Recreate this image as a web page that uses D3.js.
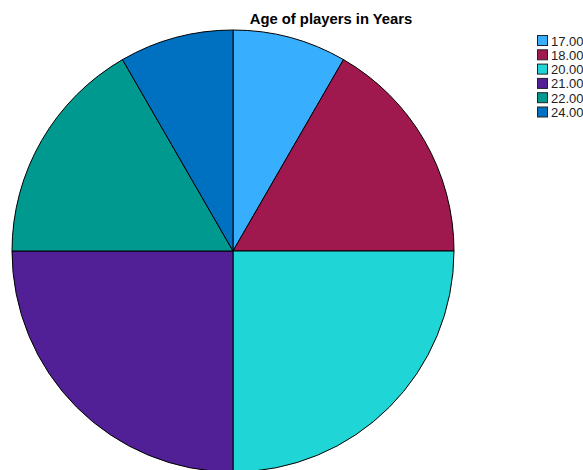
<!DOCTYPE html>
<html>
<head>
<meta charset="utf-8">
<script src="https://cdn.jsdelivr.net/npm/d3@7"></script>
<style>
  html, body { margin: 0; padding: 0; background: #fff; overflow: hidden; }
  svg { display: block; }
</style>
</head>
<body>
<svg id="chart" width="583" height="470"></svg>
<script>
// Ages of players and how many players have each age
const ages = ["17.00", "18.00", "20.00", "21.00", "22.00", "24.00"];
const counts = [1, 2, 3, 3, 2, 1];
const colors = ["#38aeff", "#a0194e", "#20d5d5", "#511f96", "#00998f", "#0070c0"];
const title = "Age of players in Years";

const svg = d3.select("#chart");
const cx = 233, cy = 251, r = 221;

const color = d3.scaleOrdinal().domain(ages).range(colors);

const pie = d3.pie().sort(null).value(d => d.count);
const arc = d3.arc().innerRadius(0).outerRadius(r);
const data = ages.map((a, i) => ({ age: a, count: counts[i] }));

const g = svg.append("g").attr("transform", `translate(${cx},${cy})`);
g.selectAll("path")
  .data(pie(data))
  .join("path")
  .attr("d", arc)
  .attr("fill", d => color(d.data.age))
  .attr("stroke", "#000")
  .attr("stroke-width", 1)
  .attr("stroke-linejoin", "round");

// Title
svg.append("text")
  .attr("x", 331)
  .attr("y", 24)
  .attr("text-anchor", "middle")
  .attr("font-family", "Liberation Sans, Arial, sans-serif")
  .attr("font-weight", "bold")
  .attr("font-size", 14.8)
  .attr("fill", "#000")
  .text(title);

// Legend
const legend = svg.append("g").attr("transform", "translate(537,35)");
const rows = legend.selectAll("g")
  .data(ages)
  .join("g")
  .attr("transform", (d, i) => `translate(0,${i * 14.3})`);
rows.append("rect")
  .attr("x", 0.5).attr("y", 0.5)
  .attr("width", 10).attr("height", 10)
  .attr("fill", d => color(d))
  .attr("stroke", "#222")
  .attr("stroke-width", 1);
rows.append("text")
  .attr("x", 14)
  .attr("y", 10.5)
  .attr("font-family", "Liberation Sans, Arial, sans-serif")
  .attr("font-size", 13)
  .attr("fill", "#222")
  .text(d => d);
</script>
</body>
</html>
